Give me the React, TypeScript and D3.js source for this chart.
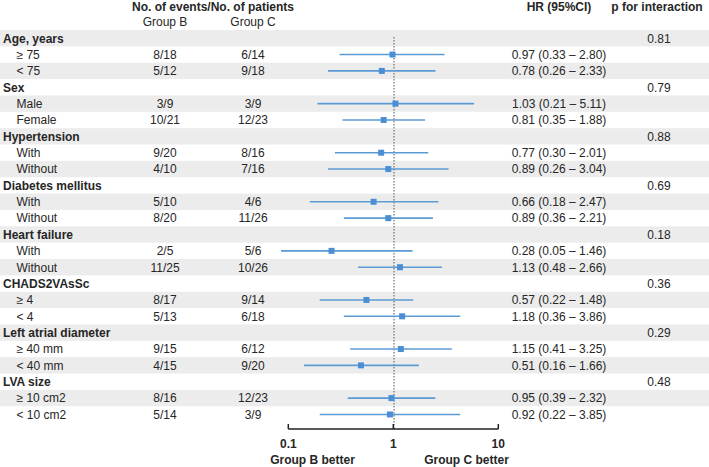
import React from "react";
import * as d3 from "d3";

const groupNames = ["Age, years", "Sex", "Hypertension", "Diabetes mellitus", "Heart failure", "CHADS2VAsSc", "Left atrial diameter", "LVA size"];
const pInteraction = ["0.81", "0.79", "0.88", "0.69", "0.18", "0.36", "0.29", "0.48"];
const subLabels = [
  ["≥ 75", "< 75"],
  ["Male", "Female"],
  ["With", "Without"],
  ["With", "Without"],
  ["With", "Without"],
  ["≥ 4", "< 4"],
  ["≥ 40 mm", "< 40 mm"],
  ["≥ 10 cm2", "< 10 cm2"],
];
const groupB = [["8/18", "5/12"], ["3/9", "10/21"], ["9/20", "4/10"], ["5/10", "8/20"], ["2/5", "11/25"], ["8/17", "5/13"], ["9/15", "4/15"], ["8/16", "5/14"]];
const groupC = [["6/14", "9/18"], ["3/9", "12/23"], ["8/16", "7/16"], ["4/6", "11/26"], ["5/6", "10/26"], ["9/14", "6/18"], ["6/12", "9/20"], ["12/23", "3/9"]];
const hr = [[0.97, 0.78], [1.03, 0.81], [0.77, 0.89], [0.66, 0.89], [0.28, 1.13], [0.57, 1.18], [1.15, 0.51], [0.95, 0.92]];
const lo = [[0.33, 0.26], [0.21, 0.35], [0.30, 0.26], [0.18, 0.36], [0.05, 0.48], [0.22, 0.36], [0.41, 0.16], [0.39, 0.22]];
const hi = [[2.80, 2.33], [5.11, 1.88], [2.01, 3.04], [2.47, 2.21], [1.46, 2.66], [1.48, 3.86], [3.25, 1.66], [2.32, 3.85]];
const axisTicks = [0.1, 1, 10];
const axisTickLabels = ["0.1", "1", "10"];

const W = 709;
const H = 467;
const rowTop = 30;
const rowH = 16.36;
const FONT = "Liberation Sans, Arial, sans-serif";

type Row = { kind: "head" | "sub"; label: string; b?: string; c?: string; hr?: number; lo?: number; hi?: number; p?: string };

export default function App() {
  const rows: Row[] = [];
  groupNames.forEach((g, i) => {
    rows.push({ kind: "head", label: g, p: pInteraction[i] });
    subLabels[i].forEach((s, j) => {
      rows.push({ kind: "sub", label: s, b: groupB[i][j], c: groupC[i][j], hr: hr[i][j], lo: lo[i][j], hi: hi[i][j] });
    });
  });

  const y = d3.scaleBand<number>().domain(d3.range(rows.length)).range([rowTop, rowTop + rowH * rows.length]).padding(0);
  const xData = d3.scaleLog().domain([0.1, 10]).range([281, 507]).clamp(true);
  const xAxis = d3.scaleLog().domain([0.1, 10]).range([288.3, 498.3]);
  const axisY = 429;
  const fmt = (v: number) => d3.format(".2f")(v);
  const lineColor = "#5b9bd5";
  const boxColor = "#4a8fd6";
  const sq = 6;
  const txt = "#262626";

  return (
    <svg width={W} height={H} style={{ position: "absolute", left: 0, top: 0, background: "#fff" }} fontFamily={FONT} fontSize={12}>
      {rows.map((r, i) =>
        i % 2 === 0 ? <rect key={"bg" + i} x={0} y={y(i)!} width={W} height={rowH} fill="#ececec" /> : null
      )}
      {/* headers */}
      <text x={213} y={10.5} textAnchor="middle" fontWeight="bold" fill={txt}>No. of events/No. of patients</text>
      <text x={165} y={25.5} textAnchor="middle" fill={txt}>Group B</text>
      <text x={253} y={25.5} textAnchor="middle" fill={txt}>Group C</text>
      <text x={559} y={10.5} textAnchor="middle" fontWeight="bold" fill={txt}>HR (95%CI)</text>
      <text x={657} y={10.5} textAnchor="middle" fontWeight="bold" fill={txt}>p for interaction</text>

      {/* reference line */}
      <line x1={xData(1)} x2={xData(1)} y1={37} y2={axisY} stroke="#555" strokeWidth={1} strokeDasharray="1.5,1.5" />

      {rows.map((r, i) => {
        const cy = y(i)! + rowH / 2;
        if (r.kind === "head") {
          return (
            <g key={"r" + i}>
              <text x={3} y={cy} dy="0.36em" fontWeight="bold" fill={txt}>{r.label}</text>
              <text x={659} y={cy} dy="0.36em" textAnchor="middle" fill={txt}>{r.p}</text>
            </g>
          );
        }
        return (
          <g key={"r" + i}>
            <text x={16.5} y={cy} dy="0.36em" fill={txt}>{r.label}</text>
            <text x={165} y={cy} dy="0.36em" textAnchor="middle" fill={txt}>{r.b}</text>
            <text x={253} y={cy} dy="0.36em" textAnchor="middle" fill={txt}>{r.c}</text>
            <line x1={xData(r.lo!)} x2={xData(r.hi!)} y1={cy} y2={cy} stroke={lineColor} strokeWidth={1.6} />
            <rect x={xData(r.hr!) - sq / 2} y={cy - sq / 2} width={sq} height={sq} fill={boxColor} />
            <text x={559} y={cy} dy="0.36em" textAnchor="middle" fill={txt}>
              {`${fmt(r.hr!)} (${fmt(r.lo!)} – ${fmt(r.hi!)})`}
            </text>
          </g>
        );
      })}

      {/* axis */}
      <line x1={xAxis(0.1)} x2={xAxis(10)} y1={axisY} y2={axisY} stroke="#222" strokeWidth={1.5} />
      {axisTicks.map((t, k) => (
        <g key={"t" + k}>
          <line x1={xAxis(t)} x2={xAxis(t)} y1={axisY - 5} y2={axisY} stroke="#222" strokeWidth={1.5} />
          <text x={xAxis(t)} y={448} textAnchor="middle" fontWeight="bold" fill={txt}>{axisTickLabels[k]}</text>
        </g>
      ))}
      <text x={312.5} y={464} textAnchor="middle" fontWeight="bold" fill={txt}>Group B better</text>
      <text x={466.5} y={464} textAnchor="middle" fontWeight="bold" fill={txt}>Group C better</text>
    </svg>
  );
}
